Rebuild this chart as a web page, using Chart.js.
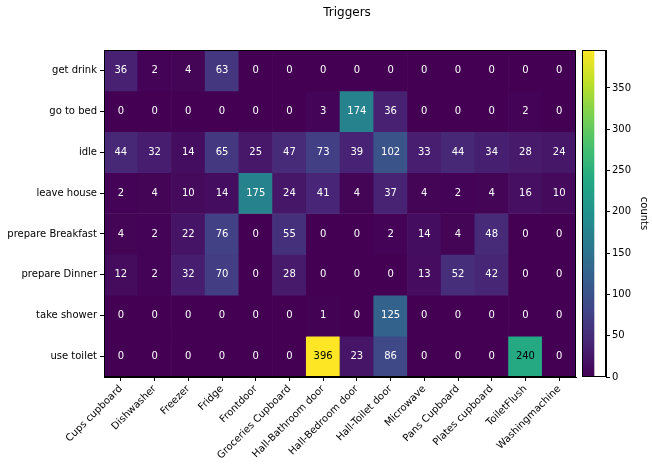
<!DOCTYPE html>
<html>
<head>
<meta charset="utf-8">
<script src="https://cdn.jsdelivr.net/npm/chart.js@4/dist/chart.umd.min.js"></script>
<style>
  html, body { margin: 0; padding: 0; background: #fff; }
  #wrap { position: relative; width: 652px; height: 467px; }
  #main { position: absolute; left: 0; top: 0; }
  #cbar { position: absolute; left: 576px; top: 0; }
</style>
</head>
<body>
<div id="wrap">
  <canvas id="main" width="652" height="467"></canvas>
  <canvas id="cbar" width="76" height="467"></canvas>
</div>
<script>
const rows = ["get drink", "go to bed", "idle", "leave house", "prepare Breakfast", "prepare Dinner", "take shower", "use toilet"];
const cols = ["Cups cupboard", "Dishwasher", "Freezer", "Fridge", "Frontdoor", "Groceries Cupboard", "Hall-Bathroom door", "Hall-Bedroom door", "Hall-Toilet door", "Microwave", "Pans Cupboard", "Plates cupboard", "ToiletFlush", "Washingmachine"];

const getDrink         = [36, 2, 4, 63, 0, 0, 0, 0, 0, 0, 0, 0, 0, 0];
const goToBed          = [0, 0, 0, 0, 0, 0, 3, 174, 36, 0, 0, 0, 2, 0];
const idle             = [44, 32, 14, 65, 25, 47, 73, 39, 102, 33, 44, 34, 28, 24];
const leaveHouse       = [2, 4, 10, 14, 175, 24, 41, 4, 37, 4, 2, 4, 16, 10];
const prepareBreakfast = [4, 2, 22, 76, 0, 55, 0, 0, 2, 14, 4, 48, 0, 0];
const prepareDinner    = [12, 2, 32, 70, 0, 28, 0, 0, 0, 13, 52, 42, 0, 0];
const takeShower       = [0, 0, 0, 0, 0, 0, 1, 0, 125, 0, 0, 0, 0, 0];
const useToilet        = [0, 0, 0, 0, 0, 0, 396, 23, 86, 0, 0, 0, 240, 0];

const counts = [getDrink, goToBed, idle, leaveHouse, prepareBreakfast, prepareDinner, takeShower, useToilet];
const colorbarTicks = [0, 50, 100, 150, 200, 250, 300, 350];
const vmin = 0;
const vmax = 396;

const viridisStops = ["#440154", "#482475", "#414487", "#355f8d", "#2a788e", "#21918c", "#22a884", "#44bf70", "#7ad151", "#bddf26", "#fde725"];

function hexToRgb(h) {
  return [parseInt(h.slice(1, 3), 16), parseInt(h.slice(3, 5), 16), parseInt(h.slice(5, 7), 16)];
}
function viridis(t) {
  t = Math.max(0, Math.min(1, t));
  const n = viridisStops.length - 1;
  const i = Math.min(n - 1, Math.floor(t * n));
  const f = t * n - i;
  const a = hexToRgb(viridisStops[i]), b = hexToRgb(viridisStops[i + 1]);
  const c = a.map((v, k) => Math.round(v + (b[k] - v) * f));
  return `rgb(${c[0]},${c[1]},${c[2]})`;
}
const norm = v => (v - vmin) / (vmax - vmin);

const FONT = "'DejaVu Sans', sans-serif";

const datasets = rows.map((r, ri) => ({
  label: r,
  data: cols.map(() => [ri - 0.5, ri + 0.5]),
  values: counts[ri],
  backgroundColor: counts[ri].map(v => viridis(norm(v))),
  borderWidth: 0,
  barPercentage: 1.0,
  categoryPercentage: 1.0,
  grouped: false
}));

const cellText = {
  id: 'cellText',
  afterDatasetsDraw(chart) {
    const ctx = chart.ctx;
    ctx.save();
    ctx.font = "10px " + FONT;
    ctx.textAlign = 'center';
    ctx.textBaseline = 'middle';
    chart.data.datasets.forEach((ds, di) => {
      const meta = chart.getDatasetMeta(di);
      meta.data.forEach((el, i) => {
        const v = ds.values[i];
        ctx.fillStyle = norm(v) > 0.5 ? '#000000' : '#ffffff';
        ctx.fillText(String(v), el.x, (el.y + el.base) / 2);
      });
    });
    ctx.restore();
  }
};

const frame = {
  id: 'frame',
  afterDraw(chart) {
    const a = chart.chartArea;
    const ctx = chart.ctx;
    ctx.save();
    ctx.strokeStyle = '#000';
    ctx.lineWidth = 1;
    ctx.strokeRect(Math.round(a.left) + 0.5, Math.round(a.top) + 0.5, Math.round(a.right - a.left) - 1, Math.round(a.bottom - a.top) - 1);
    ctx.restore();
  }
};

const titlePlugin = {
  id: 'figTitle',
  afterDraw(chart) {
    const ctx = chart.ctx;
    ctx.save();
    ctx.font = "12px " + FONT;
    ctx.fillStyle = '#000';
    ctx.textAlign = 'center';
    ctx.textBaseline = 'middle';
    ctx.fillText('Triggers', 347, 13);
    ctx.restore();
  }
};

new Chart(document.getElementById('main'), {
  type: 'bar',
  data: { labels: cols, datasets },
  plugins: [cellText, frame, titlePlugin],
  options: {
    responsive: false,
    animation: false,
    layout: { padding: { left: 0, top: 50, right: 76, bottom: 0 } },
    plugins: { legend: { display: false }, tooltip: { enabled: false }, title: { display: false } },
    scales: {
      x: {
        type: 'category',
        offset: true,
        grid: { display: true, drawOnChartArea: false, offset: false, tickLength: 4, color: '#000' },
        border: { display: true, color: '#000' },
        ticks: { autoSkip: false, minRotation: 45, maxRotation: 45, color: '#000', font: { family: FONT, size: 10 }, padding: 2 },
        afterFit(scale) { scale.height = 90; }
      },
      y: {
        type: 'linear',
        min: -0.5,
        max: 7.5,
        reverse: true,
        afterBuildTicks(scale) { scale.ticks = rows.map((_, i) => ({ value: i })); },
        grid: { display: true, drawOnChartArea: false, tickLength: 4, color: '#000' },
        border: { display: true, color: '#000' },
        ticks: { color: '#000', font: { family: FONT, size: 10 }, padding: 3, callback: v => rows[v] },
        afterFit(scale) { scale.width = 104; }
      }
    }
  }
});

new Chart(document.getElementById('cbar'), {
  type: 'bar',
  data: {
    labels: [''],
    datasets: [{
      data: [[vmin, vmax]],
      borderWidth: 0,
      barPercentage: 1.0,
      categoryPercentage: 1.0,
      backgroundColor(ctx) {
        const a = ctx.chart.chartArea;
        if (!a) return viridisStops[0];
        const g = ctx.chart.ctx.createLinearGradient(0, a.bottom, 0, a.top);
        viridisStops.forEach((c, i) => g.addColorStop(i / (viridisStops.length - 1), c));
        return g;
      }
    }]
  },
  plugins: [frame],
  options: {
    responsive: false,
    animation: false,
    layout: { padding: { left: 6, top: 50, right: 0, bottom: 90 } },
    plugins: { legend: { display: false }, tooltip: { enabled: false } },
    scales: {
      x: { display: false, offset: false },
      y: {
        type: 'linear',
        position: 'right',
        min: vmin,
        max: vmax,
        afterBuildTicks(scale) { scale.ticks = colorbarTicks.map(v => ({ value: v })); },
        grid: { display: true, drawOnChartArea: false, tickLength: 4, color: '#000' },
        border: { display: true, color: '#000' },
        ticks: { color: '#000', font: { family: FONT, size: 10 }, padding: 2 },
        title: { display: true, text: 'counts', color: '#000', font: { family: FONT, size: 10 }, padding: { top: 2, bottom: 4 } },
        afterFit(scale) { scale.width = 46; }
      }
    }
  }
});
</script>
</body>
</html>
